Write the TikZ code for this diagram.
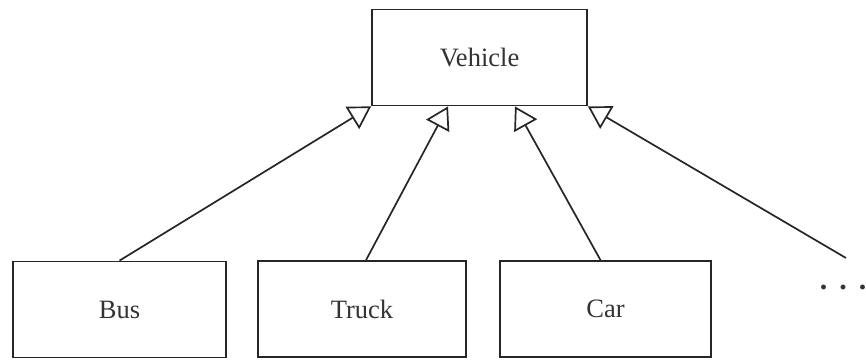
\documentclass[tikz,border=0pt]{standalone}
\usepackage{fontspec}
\setmainfont{Liberation Serif}
\usetikzlibrary{arrows.meta,calc}
\tikzset{
  classbox/.style={draw=black!85, line width=1.8pt, inner sep=0pt, text=black!80,
    font=\fontsize{26.5}{30}\selectfont},
  inherit/.style={draw=black!85, line width=1.7pt,
    -{Triangle[open, length=22pt, width=26pt, line width=1.7pt]}},
}
\begin{document}
\begin{tikzpicture}[x=1pt,y=-1pt]
\useasboundingbox (0,0) rectangle (866,360);
\fill[white] (0,0) rectangle (866,360);
\node[classbox, minimum width=215pt, minimum height=96pt] (vehicle) at (479.5,57.5) {Vehicle};
\node[classbox, minimum width=213pt, minimum height=96pt] (bus) at (119.5,309.5) {Bus};
\node[classbox, minimum width=208pt, minimum height=96pt] (truck) at (362,309) {Truck};
\node[classbox, minimum width=211pt, minimum height=96pt] (car) at (605.5,309) {Car};
\node[font=\fontsize{30}{32}\selectfont\bfseries, text=black!80, inner sep=0pt] (more) at (843,287) {.\hspace{12pt}.\hspace{12pt}.};
\coordinate (moreend) at (846,258);
\draw[inherit] (bus.north) -- (vehicle.south west);
\draw[inherit] ($(truck.north)+(4,0)$) -- ($(vehicle.south)+(-31.5,0)$);
\draw[inherit] ($(car.north)+(-5,0)$) -- ($(vehicle.south)+(35.5,0)$);
\draw[inherit] (moreend) -- (vehicle.south east);
\end{tikzpicture}
\end{document}
